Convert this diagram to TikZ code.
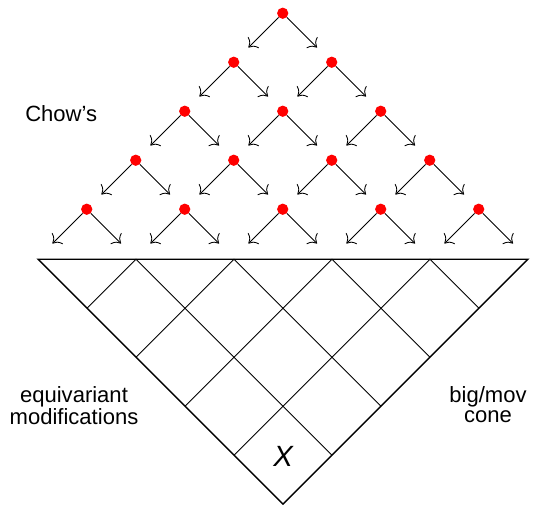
\documentclass[tikz,border=0pt]{standalone}
\usepackage{xcolor}
\usepackage{fontspec}
\setmainfont{Liberation Sans}
\usetikzlibrary{positioning, calc, arrows.meta}

\begin{document}
\begin{tikzpicture}[>={To[scale=1.6]}, node distance=1cm and 1cm, on grid,
  dot/.style={circle, fill=red, inner sep=0pt, minimum size=0.23cm},
  lbl/.style={font=\fontsize{12.8}{11.2}\selectfont, align=center}]
  \useasboundingbox (0,0) rectangle (10.878,-10.306);

  % dots of the tree
  \node[dot] (a1) at (5.77,-0.27) {};
  \node[dot] (b1) [below left=of a1] {};
  \node[dot] (b2) [below right=of a1] {};
  \node[dot] (c1) [below left=of b1] {};
  \node[dot] (c2) [below right=of b1] {};
  \node[dot] (c3) [below right=of b2] {};
  \node[dot] (d1) [below left=of c1] {};
  \node[dot] (d2) [below right=of c1] {};
  \node[dot] (d3) [below right=of c2] {};
  \node[dot] (d4) [below right=of c3] {};
  \node[dot] (e1) [below left=of d1] {};
  \node[dot] (e2) [below right=of d1] {};
  \node[dot] (e3) [below right=of d2] {};
  \node[dot] (e4) [below right=of d3] {};
  \node[dot] (e5) [below right=of d4] {};

  % arrow ends
  \coordinate[below left=0.7 and 0.7 of a1] (a1l); \coordinate[below right=0.7 and 0.7 of a1] (a1r);
  \coordinate[below left=0.7 and 0.7 of b1] (b1l); \coordinate[below right=0.7 and 0.7 of b1] (b1r);
  \coordinate[below left=0.7 and 0.7 of b2] (b2l); \coordinate[below right=0.7 and 0.7 of b2] (b2r);
  \coordinate[below left=0.7 and 0.7 of c1] (c1l); \coordinate[below right=0.7 and 0.7 of c1] (c1r);
  \coordinate[below left=0.7 and 0.7 of c2] (c2l); \coordinate[below right=0.7 and 0.7 of c2] (c2r);
  \coordinate[below left=0.7 and 0.7 of c3] (c3l); \coordinate[below right=0.7 and 0.7 of c3] (c3r);
  \coordinate[below left=0.7 and 0.7 of d1] (d1l); \coordinate[below right=0.7 and 0.7 of d1] (d1r);
  \coordinate[below left=0.7 and 0.7 of d2] (d2l); \coordinate[below right=0.7 and 0.7 of d2] (d2r);
  \coordinate[below left=0.7 and 0.7 of d3] (d3l); \coordinate[below right=0.7 and 0.7 of d3] (d3r);
  \coordinate[below left=0.7 and 0.7 of d4] (d4l); \coordinate[below right=0.7 and 0.7 of d4] (d4r);
  \coordinate[below left=0.7 and 0.7 of e1] (e1l); \coordinate[below right=0.7 and 0.7 of e1] (e1r);
  \coordinate[below left=0.7 and 0.7 of e2] (e2l); \coordinate[below right=0.7 and 0.7 of e2] (e2r);
  \coordinate[below left=0.7 and 0.7 of e3] (e3l); \coordinate[below right=0.7 and 0.7 of e3] (e3r);
  \coordinate[below left=0.7 and 0.7 of e4] (e4l); \coordinate[below right=0.7 and 0.7 of e4] (e4r);
  \coordinate[below left=0.7 and 0.7 of e5] (e5l); \coordinate[below right=0.7 and 0.7 of e5] (e5r);

  \path[->, line width=0.5pt]
    (a1) edge (a1l) (a1) edge (a1r)
    (b1) edge (b1l) (b1) edge (b1r)
    (b2) edge (b2l) (b2) edge (b2r)
    (c1) edge (c1l) (c1) edge (c1r)
    (c2) edge (c2l) (c2) edge (c2r)
    (c3) edge (c3l) (c3) edge (c3r)
    (d1) edge (d1l) (d1) edge (d1r)
    (d2) edge (d2l) (d2) edge (d2r)
    (d3) edge (d3l) (d3) edge (d3r)
    (d4) edge (d4l) (d4) edge (d4r)
    (e1) edge (e1l) (e1) edge (e1r)
    (e2) edge (e2l) (e2) edge (e2r)
    (e3) edge (e3l) (e3) edge (e3r)
    (e4) edge (e4l) (e4) edge (e4r)
    (e5) edge (e5l) (e5) edge (e5r);

  % the cone below
  \coordinate (nw) at (0.776,-5.29);
  \coordinate (ne) at (10.776,-5.29);
  \coordinate (s) at (5.776,-10.29);
  \draw[line width=0.5pt] ($(nw)!0.2!(s)$) -- ($(nw)!0.2!(ne)$) -- ($(s)!0.2!(ne)$);
  \draw[line width=0.5pt] ($(nw)!0.4!(s)$) -- ($(nw)!0.4!(ne)$) -- ($(s)!0.4!(ne)$);
  \draw[line width=0.5pt] ($(nw)!0.6!(s)$) -- ($(nw)!0.6!(ne)$) -- ($(s)!0.6!(ne)$);
  \draw[line width=0.5pt] ($(nw)!0.8!(s)$) -- ($(nw)!0.8!(ne)$) -- ($(s)!0.8!(ne)$);
  \draw[line width=0.8pt] (nw) -- (ne) -- (s) -- cycle;

  \node[lbl] (chow) at (1.25,-2.31) {Chow's};
  \node[lbl] (equi) at (1.51,-8.28) {equivariant\\modifications};
  \node[lbl] (cone) at (9.96,-8.26) {big/mov\\cone};
  \node[font=\fontsize{17}{20}\selectfont\itshape] (x) at (5.776,-9.306) {X};
\end{tikzpicture}
\end{document}
